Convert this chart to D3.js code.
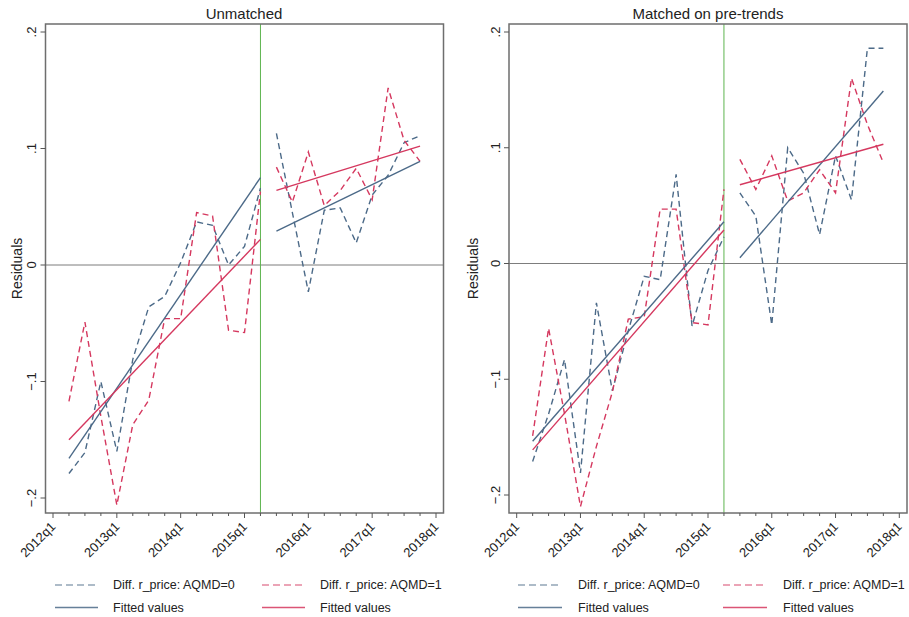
<!DOCTYPE html>
<html>
<head>
<meta charset="utf-8">
<script src="https://cdn.jsdelivr.net/npm/d3@7"></script>
<style>
  body { margin: 0; background: #fff; }
  svg { font-family: "Liberation Sans", Arial, sans-serif; }
</style>
</head>
<body>
<svg width="909" height="617"></svg>
<script>
// ** DATA ** //
const xTickLabels = ["2012q1", "2013q1", "2014q1", "2015q1", "2016q1", "2017q1", "2018q1"];
const treatQuarter = "2015q2";

const prePeriods = ["2012q2", "2012q3", "2012q4", "2013q1", "2013q2", "2013q3", "2013q4",
  "2014q1", "2014q2", "2014q3", "2014q4", "2015q1", "2015q2"];
const postPeriods = ["2015q3", "2015q4", "2016q1", "2016q2", "2016q3", "2016q4",
  "2017q1", "2017q2", "2017q3", "2017q4"];

// Unmatched
const leftPre0 = [-0.179, -0.161, -0.100, -0.160, -0.081, -0.036, -0.027, 0.002, 0.037, 0.034, 0.000, 0.016, 0.066];
const leftPre1 = [-0.117, -0.049, -0.130, -0.206, -0.137, -0.116, -0.046, -0.046, 0.045, 0.042, -0.056, -0.058, 0.063];
const leftPost0 = [0.113, 0.045, -0.023, 0.047, 0.049, 0.019, 0.060, 0.077, 0.105, 0.111];
const leftPost1 = [0.084, 0.054, 0.097, 0.051, 0.064, 0.083, 0.056, 0.152, 0.107, 0.089];
// fitted values at first / last quarter of each period
const leftFitPre0 = [-0.166, 0.075];
const leftFitPre1 = [-0.150, 0.022];
const leftFitPost0 = [0.029, 0.089];
const leftFitPost1 = [0.064, 0.102];

// Matched on pre-trends
const rightPre0 = [-0.171, -0.130, -0.083, -0.181, -0.034, -0.110, -0.058, -0.011, -0.014, 0.077, -0.054, -0.006, 0.023];
const rightPre1 = [-0.149, -0.056, -0.130, -0.210, -0.158, -0.111, -0.048, -0.046, 0.047, 0.047, -0.051, -0.053, 0.064];
const rightPost0 = [0.061, 0.041, -0.053, 0.100, 0.078, 0.025, 0.093, 0.055, 0.186, 0.186];
const rightPost1 = [0.090, 0.064, 0.093, 0.054, 0.061, 0.081, 0.061, 0.160, 0.120, 0.087];
const rightFitPre0 = [-0.1535, 0.036];
const rightFitPre1 = [-0.161, 0.029];
const rightFitPost0 = [0.005, 0.149];
const rightFitPost1 = [0.068, 0.103];

const yTicks = [-0.2, -0.1, 0, 0.1, 0.2];
const legendLabels = ["Diff. r_price: AQMD=0", "Diff. r_price: AQMD=1", "Fitted values", "Fitted values"];

// ** SETUP ** //
const blue = "#4c6a88";
const red = "#d5385f";

const qIndex = s => (+s.slice(0, 4) - 2012) * 4 + (+s.slice(5) - 1);
const fmtY = v => (v === 0 ? "0" : d3.format(".1f")(v).replace("0.", "."));

const panels = [
  {
    title: "Unmatched", titleX: 244,
    frame: [45.5, 443.5, 24, 513], xr: [53, 436], yr: [498, 32],
    tickX: 31.5, labelX: 17,
    pre0: leftPre0, pre1: leftPre1, post0: leftPost0, post1: leftPost1,
    fits: [[leftFitPre0, leftFitPost0], [leftFitPre1, leftFitPost1]],
    legend: { c1: [55, 98, 113], c2: [262, 305, 320] }
  },
  {
    title: "Matched on pre-trends", titleX: 708,
    frame: [509, 907, 24, 513], xr: [516.7, 899.3], yr: [495, 32],
    tickX: 495, labelX: 473,
    pre0: rightPre0, pre1: rightPre1, post0: rightPost0, post1: rightPost1,
    fits: [[rightFitPre0, rightFitPost0], [rightFitPre1, rightFitPost1]],
    legend: { c1: [518, 562, 578], c2: [723, 767, 783] }
  }
];

const svg = d3.select("svg");

panels.forEach(p => {
  const [fx0, fx1, fy0, fy1] = p.frame;
  const x = d3.scaleLinear().domain([0, 24]).range(p.xr);
  const y = d3.scaleLinear().domain([-0.2, 0.2]).range(p.yr);
  const g = svg.append("g");

  // title
  g.append("text")
    .attr("x", p.titleX).attr("y", 19)
    .attr("text-anchor", "middle")
    .attr("font-size", 15).attr("fill", "#222")
    .text(p.title);

  // zero line + treatment line
  g.append("line")
    .attr("x1", fx0).attr("x2", fx1)
    .attr("y1", y(0)).attr("y2", y(0))
    .attr("stroke", "#7d7d7d").attr("stroke-width", 1);
  g.append("line")
    .attr("x1", x(qIndex(treatQuarter))).attr("x2", x(qIndex(treatQuarter)))
    .attr("y1", fy0).attr("y2", fy1)
    .attr("stroke", "#5db44f").attr("stroke-width", 1);

  const line = d3.line().x(d => x(d[0])).y(d => y(d[1]));

  // dashed residual series
  const series = [
    [prePeriods, p.pre0, blue], [postPeriods, p.post0, blue],
    [prePeriods, p.pre1, red], [postPeriods, p.post1, red]
  ];
  series.forEach(([per, vals, col]) => {
    g.append("path")
      .datum(per.map((s, i) => [qIndex(s), vals[i]]))
      .attr("d", line)
      .attr("fill", "none")
      .attr("stroke", col).attr("stroke-width", 1.4)
      .attr("stroke-dasharray", "6,4");
  });

  // fitted lines
  p.fits.forEach((pair, k) => {
    const col = k === 0 ? blue : red;
    [[prePeriods, pair[0]], [postPeriods, pair[1]]].forEach(([per, ends]) => {
      g.append("path")
        .datum([[qIndex(per[0]), ends[0]], [qIndex(per[per.length - 1]), ends[1]]])
        .attr("d", line)
        .attr("fill", "none")
        .attr("stroke", col).attr("stroke-width", 1.4);
    });
  });

  // frame
  g.append("rect")
    .attr("x", fx0).attr("y", fy0)
    .attr("width", fx1 - fx0).attr("height", fy1 - fy0)
    .attr("fill", "none").attr("stroke", "#6e6e6e").attr("stroke-width", 1.5);

  // y axis
  yTicks.forEach(t => {
    g.append("line")
      .attr("x1", fx0 - 5).attr("x2", fx0)
      .attr("y1", y(t)).attr("y2", y(t))
      .attr("stroke", "#555").attr("stroke-width", 1);
    g.append("text")
      .attr("transform", `translate(${p.tickX},${y(t)}) rotate(-90)`)
      .attr("text-anchor", "middle").attr("dy", "0.35em")
      .attr("font-size", 13).attr("fill", "#222")
      .text(fmtY(t));
  });
  g.append("text")
    .attr("transform", `translate(${p.labelX},${(fy0 + fy1) / 2}) rotate(-90)`)
    .attr("text-anchor", "middle").attr("dy", "0.35em")
    .attr("font-size", 14).attr("fill", "#222")
    .text("Residuals");

  // x axis: quarterly minor ticks, yearly labels
  d3.range(0, 25).forEach(q => {
    g.append("line")
      .attr("x1", x(q)).attr("x2", x(q))
      .attr("y1", fy1).attr("y2", fy1 + (q % 4 === 0 ? 5 : 3))
      .attr("stroke", "#555").attr("stroke-width", 1);
  });
  xTickLabels.forEach(s => {
    g.append("text")
      .attr("transform", `translate(${x(qIndex(s)) - 3},${fy1 + 8}) rotate(-45)`)
      .attr("text-anchor", "end").attr("dy", "0.7em")
      .attr("font-size", 13).attr("fill", "#222")
      .text(s);
  });

  // legend
  const rows = [585, 607.5];
  const items = [
    [p.legend.c1, rows[0], blue, true],
    [p.legend.c2, rows[0], red, true],
    [p.legend.c1, rows[1], blue, false],
    [p.legend.c2, rows[1], red, false]
  ];
  items.forEach(([c, ry, col, dashed], i) => {
    g.append("line")
      .attr("x1", c[0]).attr("x2", c[1])
      .attr("y1", ry).attr("y2", ry)
      .attr("stroke", col).attr("stroke-width", 1.4)
      .attr("stroke-dasharray", dashed ? "7,4" : null)
      .attr("opacity", dashed ? 0.6 : 0.85);
    g.append("text")
      .attr("x", c[2]).attr("y", ry).attr("dy", "0.35em")
      .attr("font-size", 12.5).attr("fill", "#222")
      .text(legendLabels[i]);
  });
});
</script>
</body>
</html>
